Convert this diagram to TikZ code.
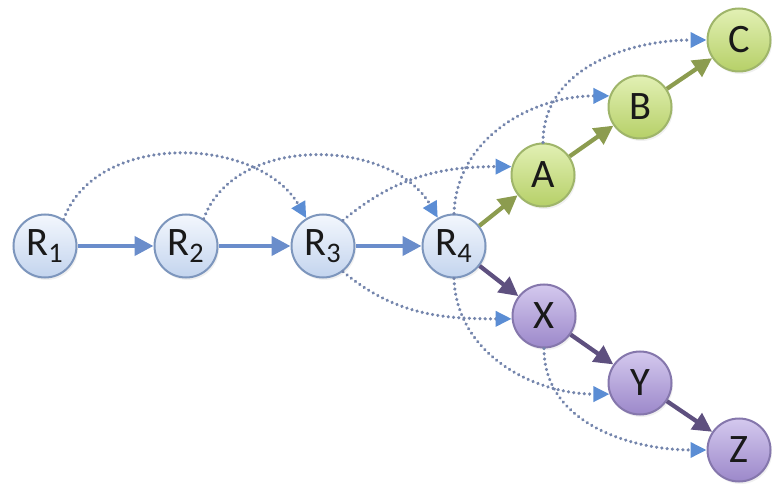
\documentclass[tikz,border=0pt]{standalone}
\usepackage{fontspec}
\setmainfont{Carlito}
\usepackage{xcolor}
\usepackage{tikz}
\usetikzlibrary{shapes,arrows.meta,positioning,shadows}

\definecolor{rline}{HTML}{7D96BD}
\definecolor{rtop}{HTML}{F3F7FD}
\definecolor{rbot}{HTML}{C3D4EE}
\definecolor{gline}{HTML}{9FB56A}
\definecolor{gtop}{HTML}{E2F0B4}
\definecolor{gbot}{HTML}{B6D068}
\definecolor{pline}{HTML}{8577AC}
\definecolor{ptop}{HTML}{D4C9EE}
\definecolor{pbot}{HTML}{9C88CA}
\definecolor{barrow}{HTML}{6A8DCB}
\definecolor{garrow}{HTML}{8C9C4F}
\definecolor{parrow}{HTML}{5E507F}
\definecolor{skipdot}{HTML}{7485AC}
\definecolor{skiphead}{HTML}{5B8DD4}

\begin{document}
\begin{tikzpicture}[
		  every node/.style={circle, draw, line width=0.4mm, minimum size=1.26cm, inner sep=0pt,
                font=\fontsize{23}{26}\selectfont, text=black!90,
                drop shadow={opacity=0.12, shadow xshift=0.03cm, shadow yshift=-0.05cm}},
          rnode/.style={draw=rline, top color=rtop, bottom color=rbot},
          gnode/.style={draw=gline, top color=gtop, bottom color=gbot},
          pnode/.style={draw=pline, top color=ptop, bottom color=pbot},
          link/.style={-{Triangle[length=0.38cm,width=0.38cm]}, line width=0.085cm},
          skip/.style={-{Triangle[length=0.32cm,width=0.3cm,color=skiphead]}, draw=skipdot,
                line width=2pt, line cap=round, dash pattern=on 0.01pt off 3pt},
          node distance=2.8cm, on grid,
		]
			\useasboundingbox (0,0) rectangle (15.44,9.78);
			\draw node[rnode] (r1) at (0.9,4.86) {R\textsubscript{1}};
			\draw node[rnode, right=2.82cm of r1] (r2) {R\textsubscript{2}};
			\draw node[rnode, right=2.74cm of r2] (r3) {R\textsubscript{3}};
			\draw node[rnode, right=2.62cm of r3] (r4) {R\textsubscript{4}};
			\draw node[gnode, above right=1.42cm and 1.78cm of r4] (a) {A};
			\draw node[gnode, above right=1.36cm and 1.94cm of a] (b) {B};
			\draw node[gnode, above right=1.34cm and 1.98cm of b] (c) {C};
			\draw node[pnode, below right=1.40cm and 1.80cm of r4] (x) {X};
			\draw node[pnode, below right=1.34cm and 1.92cm of x] (y) {Y};
			\draw node[pnode, below right=1.34cm and 1.98cm of y] (z) {Z};
            \draw[link, barrow] (r1) -- (r2);
            \draw[link, barrow] (r2) -- (r3);
            \draw[link, barrow] (r3) -- (r4);
            \draw[link, garrow] (r4) -- (a);
            \draw[link, garrow] (a) -- (b);
            \draw[link, garrow] (b) -- (c);
            \draw[link, parrow] (r4) -- (x);
            \draw[link, parrow] (x) -- (y);
            \draw[link, parrow] (y) -- (z);
            % two steps ahead
            \draw[skip] (r1.55) to[out=70, in=120] (r3.121);
            \draw[skip] (r2.57) to[out=70, in=120] (r4.120);
            \draw[skip] (r3.52) to[out=40, in=180] (a.165);
            \draw[skip] (r4.north) to[out=88, in=180] (b.160);
            \draw[skip] (a.north) to[out=90, in=180] (c.west);
            \draw[skip] (r3.-52) to[out=-40, in=180] (x.185);
            \draw[skip] (r4.south) to[out=-88, in=180] (y.200);
            \draw[skip] (x.south) to[out=-90, in=180] (z.west);

		 \end{tikzpicture}
\end{document}
